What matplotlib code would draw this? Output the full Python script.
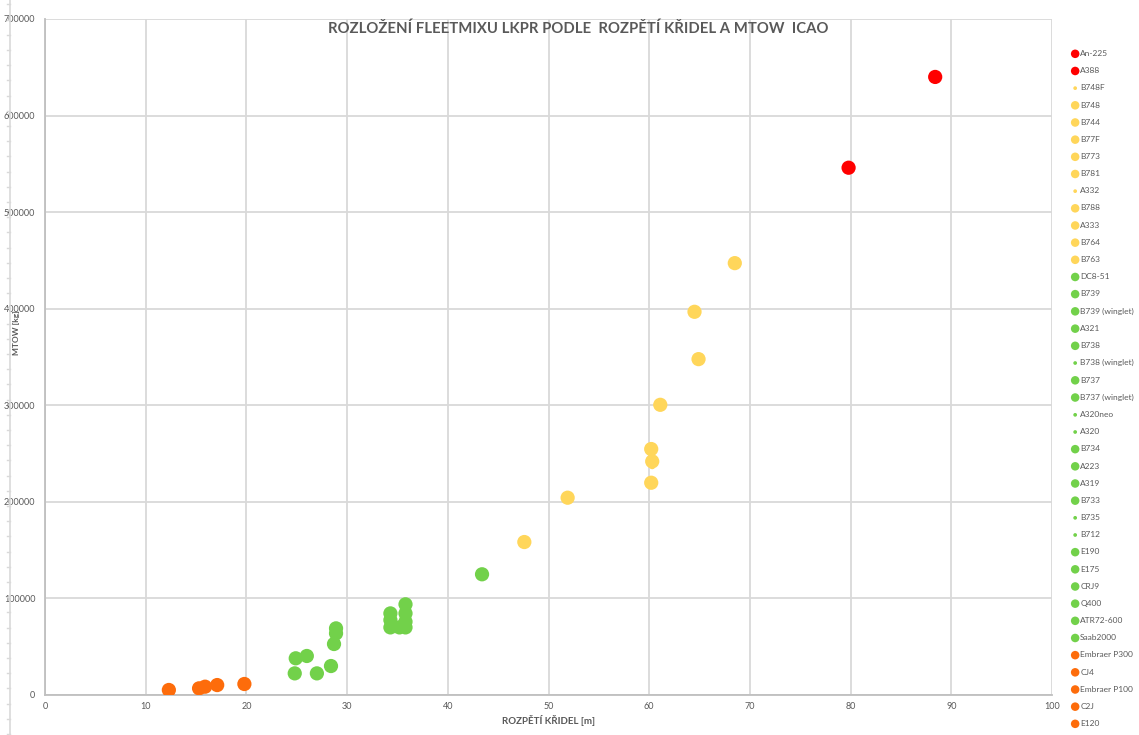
import matplotlib.pyplot as plt
from matplotlib.lines import Line2D
from matplotlib.ticker import FuncFormatter

plt.rcParams["font.family"] = ["Lato", "DejaVu Sans"]

# typ letadla, rozpětí křídel [m], MTOW [kg]
types = ["An-225", "A388", "B748F", "B748", "B744", "B77F", "B773", "B781",
         "A332", "B788", "A333", "B764", "B763", "DC8-51", "B739",
         "B739 (winglet)", "A321", "B738", "B738 (winglet)", "B737",
         "B737 (winglet)", "A320neo", "A320", "B734", "A223", "A319", "B733",
         "B735", "B712", "E190", "E175", "CRJ9", "Q400", "ATR72-600",
         "Saab2000", "Embraer P300", "CJ4", "Embraer P100", "C2J", "E120"]
span = [88.4, 79.8, 68.4, 68.5, 64.5, 64.9, 61.1, 60.2,
        60.3, 60.2, 60.3, 51.9, 47.6, 43.4, 35.8,
        35.8, 34.3, 35.8, 35.8, 34.3,
        35.8, 35.8, 34.1, 28.9, 35.2, 34.3, 28.9,
        28.9, 28.4, 28.7, 26.0, 24.9, 28.4, 27.0,
        24.8, 17.1, 15.9, 12.3, 15.3, 19.8]
mtow = [640000, 546000, 447700, 447200, 396800, 347800, 300500, 254700,
        237000, 219800, 241900, 204300, 158400, 125000, 84500,
        93900, 84500, 75900, 79000, 70000,
        70000, 79000, 78000, 69000, 70000, 77600, 63800,
        60000, 54900, 52800, 40400, 38000, 30000, 22400,
        22400, 10300, 8600, 5200, 6900, 11400]
# kategorie: 0 = nejvetsi, 1 = widebody, 2 = narrowbody/regional, 3 = male
category = [0] * 2 + [1] * 11 + [2] * 22 + [3] * 5
small_marker = ["B748F", "A332", "B738 (winglet)", "A320neo", "A320", "B735", "B712"]

cat_colors = ["#ff0000", "#ffd65a", "#72d14a", "#fd6c0b"]
grey = "#595959"

fig = plt.figure(figsize=(11.39, 7.35), dpi=100)
ax = fig.add_axes([45 / 1139, 40 / 735, 1007 / 1139, 676 / 735])

for name, x, y, c in zip(types, span, mtow, category):
    s = 20 if name in small_marker else 105
    ax.scatter(x, y, s=s, color=cat_colors[c], edgecolors="none", label=name, zorder=3)

ax.set_xlim(0, 100)
ax.set_ylim(0, 700000)
ax.set_xticks(range(0, 101, 10))
ax.set_yticks(range(0, 700001, 100000))
ax.yaxis.set_major_formatter(FuncFormatter(lambda v, p: f"{int(v)}"))
ax.grid(True, color="#d9d9d9", linewidth=1.3, zorder=0)
ax.set_axisbelow(True)
for side in ["top", "right"]:
    ax.spines[side].set_visible(False)
for side in ["left", "bottom"]:
    ax.spines[side].set_color("#bfbfbf")
    ax.spines[side].set_linewidth(1.3)
ax.tick_params(axis="both", length=0, labelsize=6.5, labelcolor=grey)
ax.tick_params(axis="y", pad=7)
ax.tick_params(axis="x", pad=5)

ax.set_xlabel("ROZPĚTÍ KŘIDEL [m]", fontsize=7, fontweight="bold", color=grey, labelpad=3)
fig.text(17 / 1139, 1 - 333 / 735, "MTOW [kg]", rotation=90, fontsize=6,
         fontweight="bold", color=grey, ha="center", va="center")

fig.text(578 / 1139, 1 - 29 / 735,
         "ROZLOŽENÍ FLEETMIXU LKPR PODLE  ROZPĚTÍ KŘIDEL A MTOW  ICAO",
         fontsize=10.7, fontweight="bold", color=grey, ha="center", va="center")

# svisla linka vlevo u popisku osy Y
fig.add_artist(Line2D([10 / 1139, 10 / 1139], [0, 1], color="#d9d9d9", linewidth=1.2))
tick_y = 734
while tick_y > 0:
    fig.add_artist(Line2D([7 / 1139, 10 / 1139], [1 - tick_y / 735] * 2,
                          color="#d9d9d9", linewidth=1.0))
    tick_y -= 15.2

fig.legend(loc="upper left", bbox_to_anchor=(1071 / 1139, 1 - 50 / 735),
           frameon=False, fontsize=6, labelcolor=grey, markerscale=0.6,
           labelspacing=1.22, handletextpad=0.1, handlelength=1.0,
           borderaxespad=0, borderpad=0)

fig.savefig("out.png", dpi=100)
